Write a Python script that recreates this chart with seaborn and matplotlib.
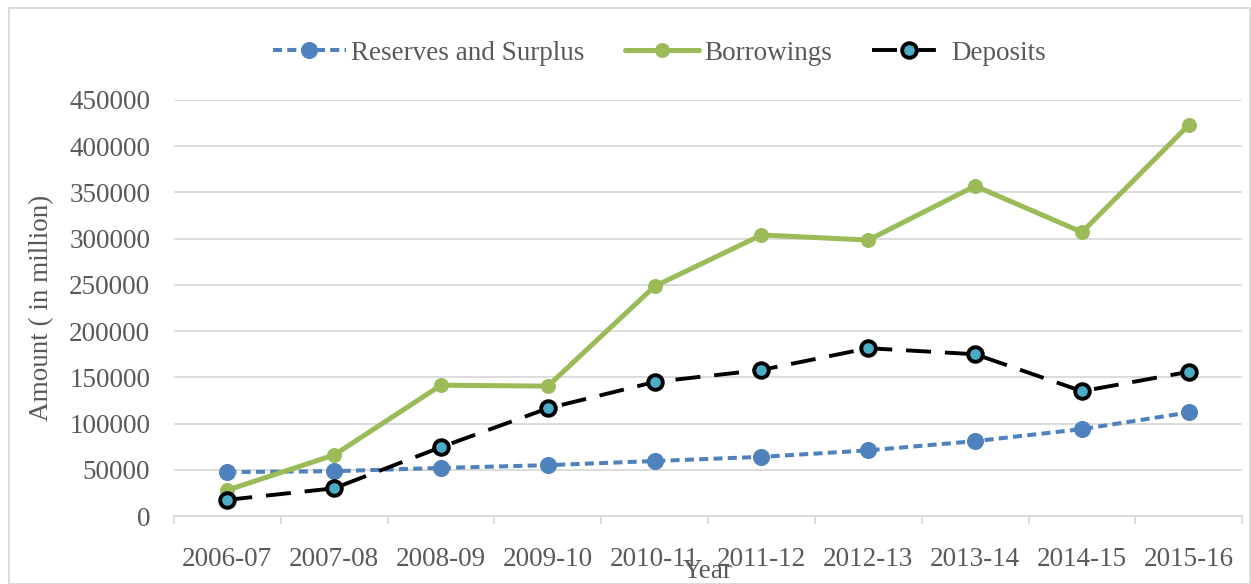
import matplotlib
matplotlib.use("Agg")
import matplotlib.pyplot as plt
import seaborn as sns
import pandas as pd
from matplotlib.patches import Rectangle
from matplotlib.ticker import FixedLocator

years = ["2006-07", "2007-08", "2008-09", "2009-10", "2010-11",
         "2011-12", "2012-13", "2013-14", "2014-15", "2015-16"]
reserves = [47500, 48500, 52000, 55000, 59500, 64000, 71000, 81000, 94000, 112000]
borrowings = [28000, 66000, 141500, 140500, 248500, 304000, 298500, 357000, 307000, 423000]
deposits = [17500, 30000, 74500, 116500, 145000, 158000, 181500, 175000, 135000, 156000]
yticks = [0, 50000, 100000, 150000, 200000, 250000, 300000, 350000, 400000, 450000]

sns.set_theme(style="white")
plt.rcParams["font.family"] = ["Liberation Serif", "DejaVu Serif"]
plt.rcParams["lines.scale_dashes"] = False

TXT = "#595959"
GRID = "#d9d9d9"
FS = 19.5

fig = plt.figure(figsize=(12.51, 5.84), dpi=100)
ax = fig.add_axes([0.139, 0.1164, 0.854, 0.7124])

df = pd.DataFrame({"Year": years, "Reserves and Surplus": reserves,
                   "Borrowings": borrowings, "Deposits": deposits})

sns.lineplot(data=df, x="Year", y="Reserves and Surplus", ax=ax, color="#4f81bd",
             linewidth=2.9, linestyle=(0, (6.5, 3.8)), marker="o", markersize=11.5,
             markeredgecolor="#4f81bd", label="Reserves and Surplus", zorder=3)
sns.lineplot(data=df, x="Year", y="Borrowings", ax=ax, color="#9bbb59",
             linewidth=3.6, marker="o", markersize=10,
             markeredgecolor="#9bbb59", label="Borrowings", zorder=4)
sns.lineplot(data=df, x="Year", y="Deposits", ax=ax, color="black",
             linewidth=2.8, linestyle=(0, (18, 10)), marker="o", markersize=10.5,
             markerfacecolor="#4bacc6", markeredgecolor="black", markeredgewidth=2.8,
             label="Deposits", zorder=5)

ax.set_xlim(-0.5, len(years) - 0.5)
ax.set_ylim(0, 450000)
ax.set_yticks(yticks)
ax.set_yticklabels([str(v) for v in yticks])
ax.yaxis.grid(True, color=GRID, linewidth=1.3)
ax.set_axisbelow(True)
for s in ["top", "right", "left"]:
    ax.spines[s].set_visible(False)
ax.spines["bottom"].set_color(GRID)
ax.spines["bottom"].set_linewidth(1.3)

ax.set_xticks(range(len(years)))
ax.set_xticklabels(years)
ax.xaxis.set_minor_locator(FixedLocator([i - 0.5 for i in range(len(years) + 1)]))
ax.tick_params(axis="x", which="major", length=0, pad=22, labelsize=FS, labelcolor=TXT)
ax.tick_params(axis="x", which="minor", length=6, width=1.3, color=GRID, bottom=True)
ax.tick_params(axis="y", length=0, pad=17, labelsize=FS, labelcolor=TXT)

ax.set_xlabel("Year", fontsize=FS, color=TXT, labelpad=-9)
ax.set_ylabel("Amount ( in million)", fontsize=FS, color=TXT, labelpad=11)

h, l = ax.get_legend_handles_labels()
fig.legend(h, l, loc="center", bbox_to_anchor=(0.527, 0.909), ncol=3, frameon=False,
           fontsize=FS, labelcolor=TXT, handlelength=2.7, columnspacing=1.5,
           handletextpad=0.2)
if ax.get_legend() is not None:
    ax.get_legend().remove()

fig.patches.append(Rectangle((9 / 1251, 0), 1 - 9 / 1251 - 0.0005, 1 - 8 / 584,
                             transform=fig.transFigure, fill=False,
                             edgecolor=GRID, linewidth=1.3))

fig.savefig("out.png", dpi=100)
